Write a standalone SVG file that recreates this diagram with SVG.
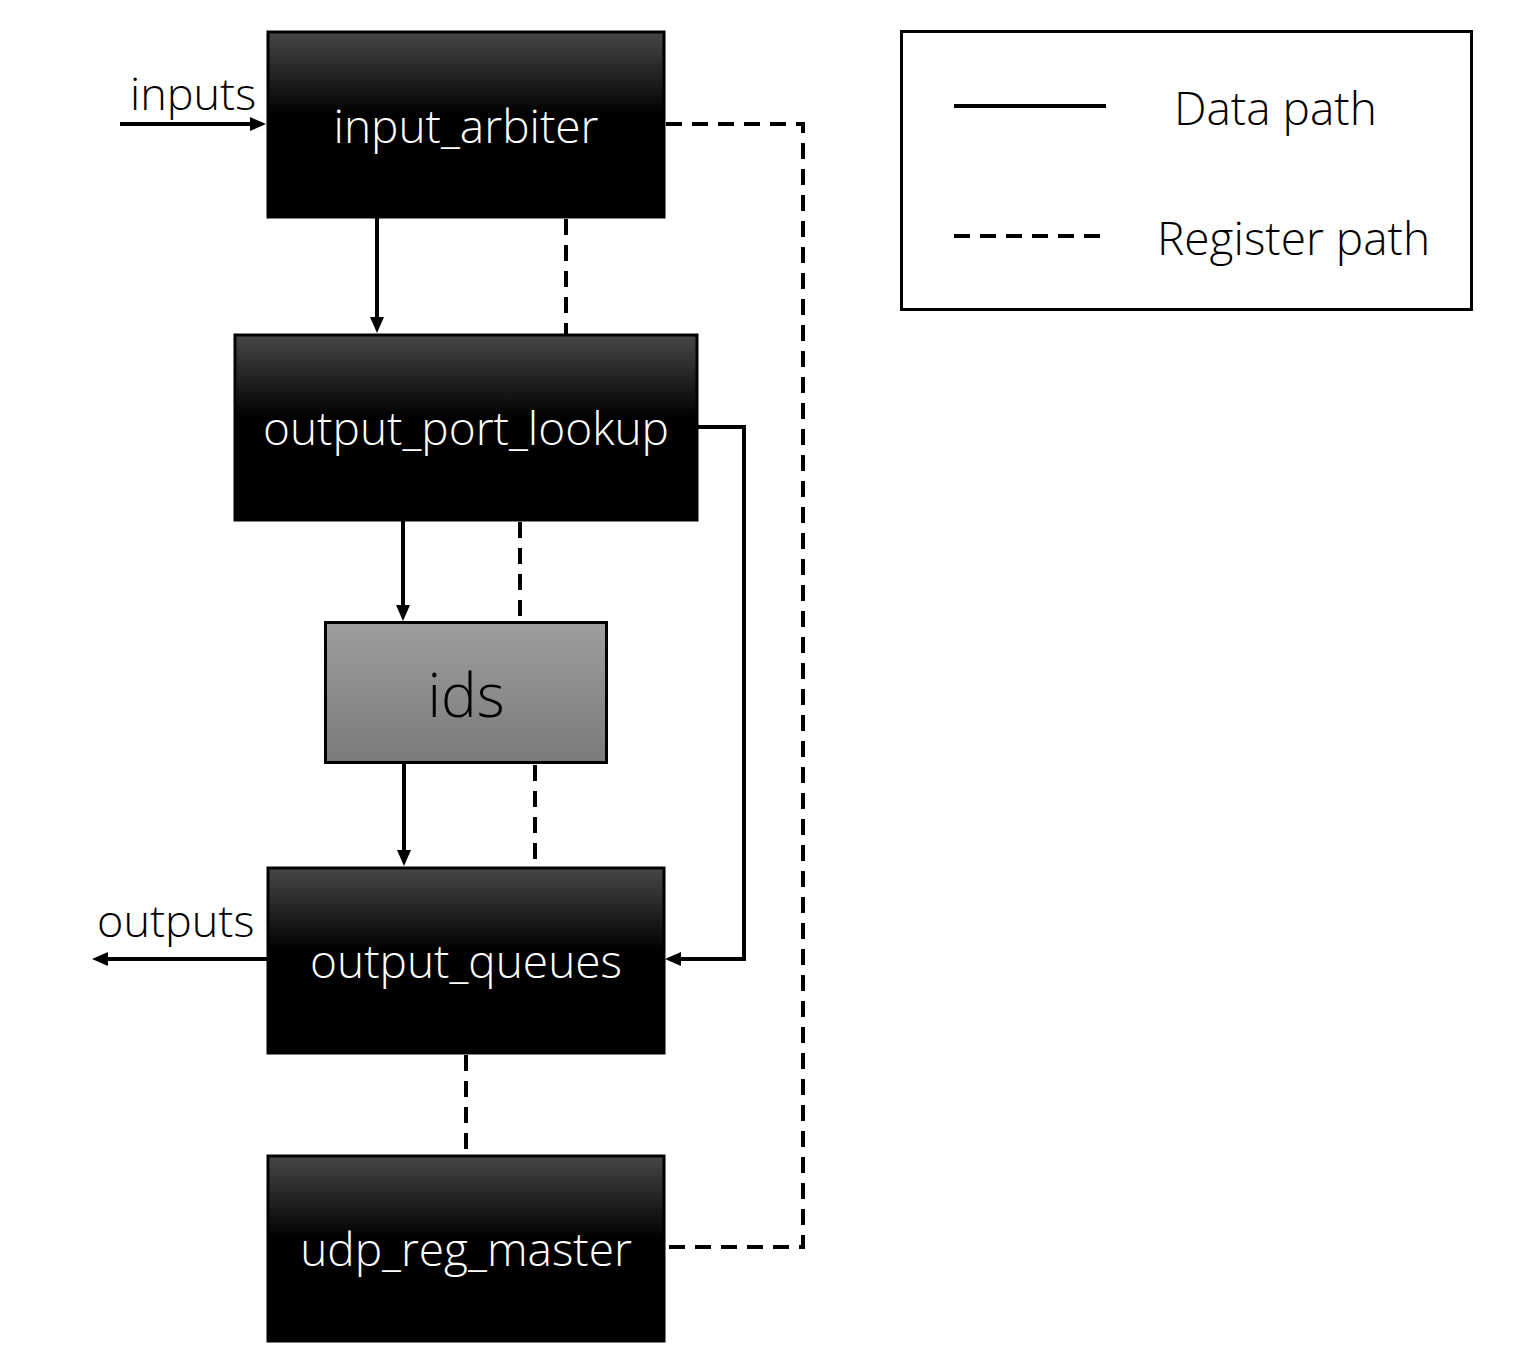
<svg xmlns="http://www.w3.org/2000/svg" width="1531" height="1357" viewBox="0 0 1531 1357">
<style>
.box{stroke:#000;stroke-width:3}
.dark{fill:url(#gDark)}
.lbl{font-family:"Open Sans","Liberation Sans",sans-serif;font-weight:300;font-size:46px;fill:#fff;text-anchor:middle}
.txt{font-family:"Open Sans","Liberation Sans",sans-serif;font-weight:300;font-size:45px;fill:#000}
.leg{font-family:"Open Sans","Liberation Sans",sans-serif;font-weight:300;font-size:46px;fill:#000}
.data{fill:none;stroke:#000;stroke-width:4}
.reg{fill:none;stroke:#000;stroke-width:4;stroke-dasharray:16 10}
</style>
<defs>
<linearGradient id="gDark" x1="0" y1="0" x2="0" y2="1">
<stop offset="0" stop-color="#474747"/>
<stop offset="0.45" stop-color="#000"/>
<stop offset="1" stop-color="#000"/>
</linearGradient>
<linearGradient id="gGray" x1="0" y1="0" x2="0" y2="1">
<stop offset="0" stop-color="#9e9e9e"/>
<stop offset="1" stop-color="#7a7a7a"/>
</linearGradient>
<marker id="arr" markerUnits="userSpaceOnUse" markerWidth="16" markerHeight="14" refX="6" refY="7" orient="auto">
<path d="M0,0 L16,7 L0,14 Z" fill="#000"/>
</marker>
</defs>
<rect width="1531" height="1357" fill="#fff"/>
<g id="connectors">
<path class="data" d="M120,124 H256" marker-end="url(#arr)"/>
<path class="data" d="M377,217 V323" marker-end="url(#arr)"/>
<path class="reg" d="M566,219 V334"/>
<path class="data" d="M403,520 V611" marker-end="url(#arr)"/>
<path class="reg" d="M520,522 V622"/>
<path class="data" d="M404,763 V856" marker-end="url(#arr)"/>
<path class="reg" d="M535,765 V867"/>
<path class="data" d="M697,427 H744 V959 H675" marker-end="url(#arr)"/>
<path class="data" d="M267,959 H102" marker-end="url(#arr)"/>
<path class="reg" d="M466,1055 V1155"/>
<path class="reg" d="M666,124 H803 V1247 H666"/>
<text class="txt" x="130" y="110">inputs</text>
<text class="txt" x="97" y="937">outputs</text>
</g>
<g id="input_arbiter">
<rect class="box dark" x="268" y="32" width="396" height="185"/>
<text class="lbl" x="466" y="143">input_arbiter</text>
</g>
<g id="output_port_lookup">
<rect class="box dark" x="235" y="335" width="462" height="185"/>
<text class="lbl" x="466" y="445">output_port_lookup</text>
</g>
<g id="ids">
<rect class="box" fill="url(#gGray)" x="325.5" y="622.5" width="281" height="140"/>
<text x="466" y="717" style="font-family:'Open Sans','Liberation Sans',sans-serif;font-weight:300;font-size:60px;fill:#000;text-anchor:middle">ids</text>
</g>
<g id="output_queues">
<rect class="box dark" x="268" y="868" width="396" height="185"/>
<text class="lbl" x="466" y="978">output_queues</text>
</g>
<g id="udp_reg_master">
<rect class="box dark" x="268" y="1156" width="396" height="185"/>
<text class="lbl" x="466" y="1266">udp_reg_master</text>
</g>
<g id="legend">
<rect x="901.5" y="31.5" width="570" height="278" fill="none" stroke="#000" stroke-width="3"/>
<line x1="954" y1="106" x2="1106" y2="106" stroke="#000" stroke-width="4"/>
<line x1="954" y1="236" x2="1106" y2="236" class="reg"/>
<text class="leg" x="1174" y="125">Data path</text>
<text class="leg" x="1157" y="255">Register path</text>
</g>
</svg>
